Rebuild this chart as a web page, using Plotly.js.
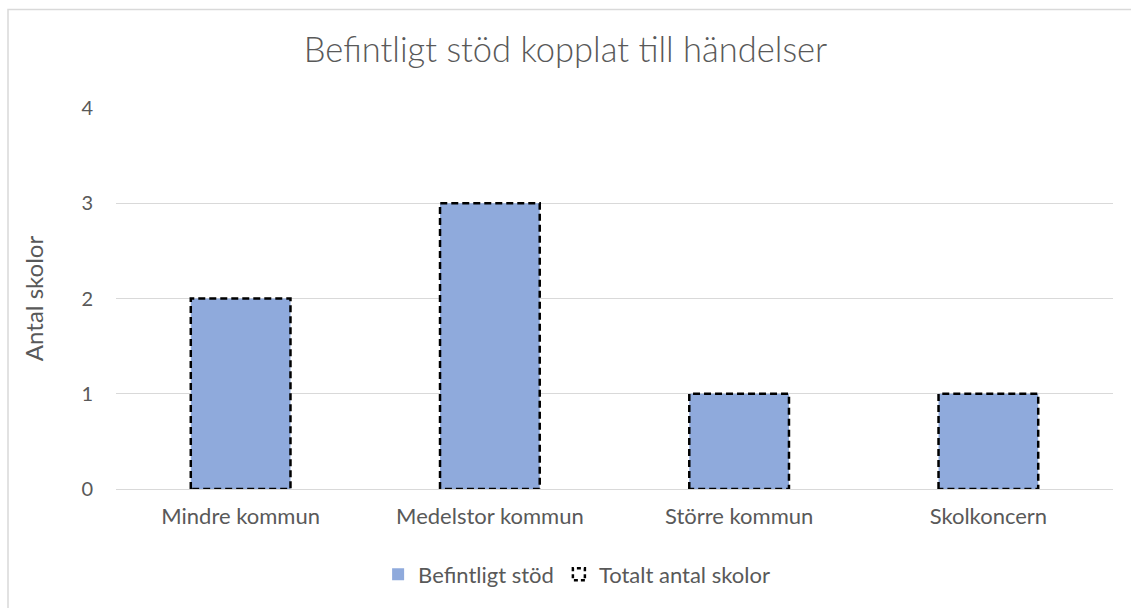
<!DOCTYPE html>
<html><head><meta charset="utf-8">
<script src="https://cdn.plot.ly/plotly-3.0.1.min.js"></script>
<style>
html,body{margin:0;padding:0;background:#fff}#chart{width:1131px;height:608px}
#chart .barlayer .trace.bars:nth-child(2) .point path{stroke-dasharray:7px 4px !important;}
#chart .legend .traces:nth-child(2) .legendpoints path{stroke-dasharray:4px 3px !important;}
</style>
</head><body><div id="chart"></div>
<script>
const categories = ["Mindre kommun", "Medelstor kommun", "Större kommun", "Skolkoncern"];
const befintligtStod = [2, 3, 1, 1];
const totaltAntalSkolor = [2, 3, 1, 1];
const yTicks = [0, 1, 2, 3, 4];

const fontFam = "Lato, 'Open Sans', sans-serif";
const grey = "#595959";

const data = [
  {type: "bar", name: "Befintligt stöd", x: categories, y: befintligtStod,
   marker: {color: "#8faadc", line: {width: 0}}},
  {type: "bar", name: "Totalt antal skolor", x: categories, y: totaltAntalSkolor,
   marker: {color: "rgba(0,0,0,0)", line: {color: "#000", width: 2.5}}}
];
const L = 116, R = 18, T = 108, B = 117, W = 1131, H = 608;
const pw = W - L - R, ph = H - T - B;
const layout = {
  width: W, height: H,
  margin: {l: L, r: R, t: T, b: B},
  paper_bgcolor: "#fff", plot_bgcolor: "#fff",
  barmode: "overlay", bargap: 0.6,
  font: {family: fontFam, color: grey, size: 20},
  title: {text: "Befintligt stöd kopplat till händelser", x: 0.5, xanchor: "center", y: 1 - 50/H, yanchor: "middle",
          font: {size: 34.5, color: grey, family: fontFam, weight: 300}},
  xaxis: {showgrid: false, showline: false, ticks: "", tickfont: {size: 22, color: grey}, automargin: false,
          ticklabelstandoff: 12},
  yaxis: {range: [0, 4], tickvals: yTicks, showgrid: true, gridcolor: "#d9d9d9", gridwidth: 1,
          zeroline: true, zerolinecolor: "#d9d9d9", zerolinewidth: 1, showline: false, ticks: "",
          ticklabelstandoff: 22,
          tickfont: {size: 20, color: grey},
          title: {text: "Antal skolor", font: {size: 24, color: grey}, standoff: 30}, automargin: false},
  legend: {orientation: "h", x: 0.462, xanchor: "center", y: (H - T - B - (577 - T)) / ph, yanchor: "middle",
           font: {size: 22, color: grey}, itemwidth: 30},
  shapes: [{type: "rect", xref: "paper", yref: "paper",
            x0: (8 - L) / pw, x1: (W + 5 - L) / pw, y0: (H - B - (H + 5)) / ph, y1: (H - B - 9) / ph,
            line: {color: "#d9d9d9", width: 1.5}, fillcolor: "rgba(0,0,0,0)", layer: "below"}]
};
Plotly.newPlot("chart", data, layout, {displayModeBar: false});
</script></body></html>
